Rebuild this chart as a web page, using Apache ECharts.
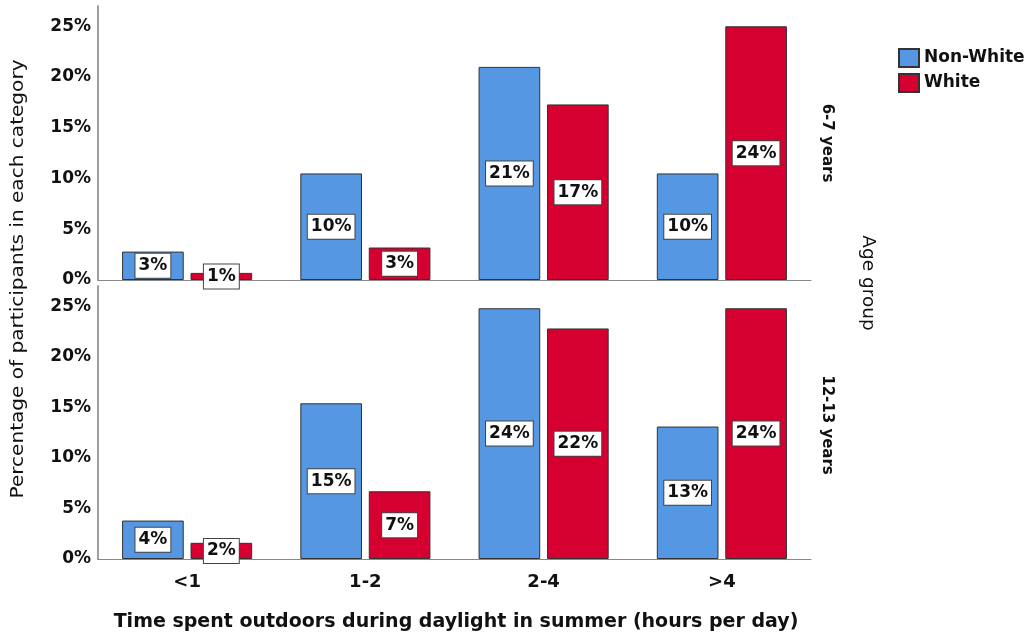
<!DOCTYPE html>
<html><head><meta charset="utf-8">
<script src="https://cdn.jsdelivr.net/npm/echarts@6/dist/echarts.min.js"></script>
<style>html,body{margin:0;padding:0;background:#fff}#c{width:1035px;height:637px}</style>
</head><body><div id="c"></div>
<script>
const categories = ['<1', '1-2', '2-4', '>4'];
const yTicks = [0, 5, 10, 15, 20, 25];
// 6-7 years panel
const young_nonWhite = [2.8, 10.5, 21.0, 10.5];
const young_white = [0.7, 3.2, 17.3, 25.0];
const young_nonWhiteLabels = ['3%', '10%', '21%', '10%'];
const young_whiteLabels = ['1%', '3%', '17%', '24%'];
// 12-13 years panel
const old_nonWhite = [3.8, 15.4, 24.8, 13.1];
const old_white = [1.6, 6.7, 22.8, 24.8];
const old_nonWhiteLabels = ['4%', '15%', '24%', '13%'];
const old_whiteLabels = ['2%', '7%', '22%', '24%'];

const FONT = '"DejaVu Sans", Verdana, sans-serif';
const BLUE = '#5597e2', RED = '#d5002f';

function lbl(arr) {
  return {
    show: true, position: 'inside',
    formatter: p => arr[p.dataIndex],
    backgroundColor: '#fff', borderColor: '#444', borderWidth: 1,
    padding: [4, 3, 3, 3], color: '#111', fontSize: 17, fontWeight: 'bold', fontFamily: FONT
  };
}
function bar(name, data, labels, color, idx) {
  return {
    type: 'bar', name, data, xAxisIndex: idx, yAxisIndex: idx,
    barGap: '11%', barCategoryGap: '27%',
    itemStyle: { color, borderColor: '#333', borderWidth: 1 },
    label: lbl(labels)
  };
}
function yAx(idx) {
  return {
    type: 'value', gridIndex: idx, min: 0, max: 27, interval: 5,
    axisLine: { show: true, lineStyle: { color: '#a0a0a0', width: 2 } },
    axisTick: { show: false }, splitLine: { show: false },
    axisLabel: {
      formatter: v => yTicks.includes(v) ? v + '%' : '',
      color: '#111', fontSize: 17, fontWeight: 'bold', fontFamily: FONT, margin: 7
    }
  };
}
function xAx(idx, showLabels) {
  return {
    type: 'category', gridIndex: idx, data: categories,
    axisLine: { show: true, lineStyle: { color: '#888', width: 1.2 } },
    axisTick: { show: false },
    axisLabel: { show: showLabels, color: '#111', fontSize: 18, fontWeight: 'bold', fontFamily: FONT, margin: 14 }
  };
}

const chart = echarts.init(document.getElementById('c'));
chart.setOption({
  animation: false,
  backgroundColor: '#fff',
  grid: [
    { left: 98, width: 713, top: 6, height: 274 },
    { left: 98, width: 713, top: 286, height: 273 }
  ],
  xAxis: [xAx(0, false), xAx(1, true)],
  yAxis: [yAx(0), yAx(1)],
  legend: {
    data: ['Non-White', 'White'], orient: 'vertical', left: 898, top: 48, padding: 0,
    itemWidth: 20, itemHeight: 18, itemGap: 5, icon: 'rect',
    textStyle: { color: '#111', fontSize: 17, fontWeight: 'bold', fontFamily: FONT, padding: [0, 0, 0, 0] }
  },
  graphic: [
    { type: 'text', x: 18, y: 279, rotation: Math.PI / 2, scaleX: 1.085,
      style: { text: 'Percentage of participants in each category', fill: '#111', fontSize: 18.5, fontFamily: FONT, align: 'center', verticalAlign: 'middle' } },
    { type: 'text', x: 456, y: 622,
      style: { text: 'Time spent outdoors during daylight in summer (hours per day)', fill: '#111', fontSize: 19, fontWeight: 'bold', fontFamily: FONT, align: 'center', verticalAlign: 'middle' } },
    { type: 'text', x: 827, y: 143, rotation: -Math.PI / 2,
      style: { text: '6-7 years', fill: '#111', fontSize: 15, fontWeight: 'bold', fontFamily: FONT, align: 'center', verticalAlign: 'middle' } },
    { type: 'text', x: 827, y: 425, rotation: -Math.PI / 2,
      style: { text: '12-13 years', fill: '#111', fontSize: 15, fontWeight: 'bold', fontFamily: FONT, align: 'center', verticalAlign: 'middle' } },
    { type: 'text', x: 868, y: 283, rotation: -Math.PI / 2,
      style: { text: 'Age group', fill: '#111', fontSize: 18.5, fontFamily: FONT, align: 'center', verticalAlign: 'middle' } }
  ],
  series: [
    bar('Non-White', young_nonWhite, young_nonWhiteLabels, BLUE, 0),
    bar('White', young_white, young_whiteLabels, RED, 0),
    bar('Non-White', old_nonWhite, old_nonWhiteLabels, BLUE, 1),
    bar('White', old_white, old_whiteLabels, RED, 1)
  ]
});
</script></body></html>
